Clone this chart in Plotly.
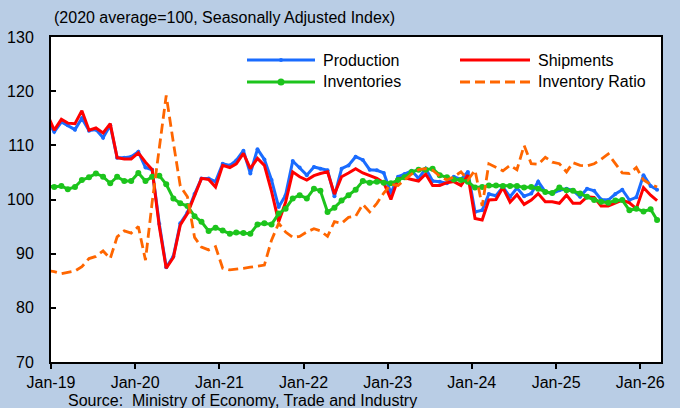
import pandas as pd
import plotly.graph_objects as go

# Monthly observations, Dec-2018 .. Mar-2026 (plotted mid-month)
months = pd.date_range("2018-12-01", "2026-03-01", freq="MS") + pd.Timedelta(days=14)

production = [114.5, 112.5, 114.3, 113.7, 112.9, 115.0, 112.7, 112.9, 111.4, 113.7,
              107.7, 107.7, 107.9, 108.8, 105.9, 105.5, 95.5, 87.5, 89.5, 95.6,
              97.6, 101.0, 103.9, 103.9, 103.3, 106.6, 106.3, 107.2, 109.0, 104.8,
              109.3, 107.4, 103.6, 98.6, 100.8, 107.1, 105.9, 104.5, 106.0, 105.7,
              105.4, 100.6, 105.7, 106.3, 107.9, 107.3, 105.5, 105.4, 104.9, 101.2,
              104.2, 104.7, 105.3, 103.9, 105.7, 103.4, 103.3, 103.0, 104.2, 103.7,
              105.1, 97.7, 98.0, 101.0, 100.7, 102.3, 100.5, 102.1, 100.6, 101.1,
              103.3, 101.4, 101.1, 101.7, 102.0, 101.7, 100.5, 102.0, 101.6, 100.0,
              99.9, 101.0, 101.8, 99.9, 100.4, 104.5, 102.5, 101.8]

shipments = [115.8, 112.8, 114.8, 114.1, 114.0, 116.4, 112.8, 113.2, 112.3, 114.0,
             107.7, 107.5, 107.5, 108.6, 106.9, 105.5, 95.0, 87.3, 89.3, 95.3,
             97.4, 100.8, 103.9, 103.7, 102.3, 106.3, 105.9, 106.6, 108.5, 105.7,
             107.6, 106.3, 101.5, 95.9, 99.5, 105.1, 104.2, 103.6, 104.4, 104.8,
             105.1, 101.0, 104.2, 104.9, 105.7, 104.9, 104.4, 103.9, 103.1, 100.0,
             103.8, 104.0, 103.7, 103.4, 104.7, 102.6, 102.6, 103.1, 103.3, 102.6,
             104.5, 96.5, 96.2, 99.9, 100.0, 102.2, 99.5, 100.9, 99.1, 99.9,
             101.1, 99.6, 99.6, 99.3, 100.8, 99.3, 99.3, 100.5, 100.4, 98.8,
             98.8, 99.3, 99.9, 99.4, 98.3, 102.2, 100.8, 99.8]

inventories = [102.5, 102.3, 102.5, 101.9, 102.3, 103.6, 104.1, 104.8, 104.2, 103.0,
               104.2, 103.4, 103.4, 104.9, 103.4, 104.2, 104.4, 102.8, 100.2, 99.3,
               98.8, 96.9, 95.9, 94.2, 94.8, 94.3, 93.7, 93.9, 93.8, 93.7,
               95.4, 95.6, 95.4, 97.4, 98.3, 100.2, 100.8, 100.2, 102.0, 101.6,
               97.7, 98.5, 99.8, 100.8, 101.8, 103.4, 103.1, 103.3, 103.1, 103.0,
               103.6, 104.1, 105.1, 105.5, 105.5, 105.7, 104.5, 104.1, 103.7, 103.6,
               103.3, 102.2, 102.3, 102.6, 102.6, 102.5, 102.5, 102.5, 102.2, 102.3,
               102.0, 101.4, 101.2, 102.2, 101.7, 101.6, 101.1, 100.5, 99.9, 99.6,
               99.4, 99.8, 99.9, 98.0, 98.3, 97.8, 98.2, 96.2]

inventory_ratio = [86.9, 86.7, 86.3, 86.5, 86.8, 87.6, 89.1, 89.5, 90.5, 89.1,
                   93.1, 94.2, 93.8, 95.0, 88.8, 99.5, 109.0, 119.2, 110.5, 102.5,
                   100.5, 93.0, 91.2, 90.7, 91.3, 87.3, 87.0, 87.1, 87.3, 87.5,
                   87.7, 87.9, 92.5, 95.6, 94.0, 93.0, 93.2, 94.0, 94.6, 94.2,
                   93.2, 95.9, 95.6, 96.7, 96.9, 99.1, 97.7, 99.3, 101.2, 102.8,
                   102.6, 103.6, 104.7, 105.5, 105.7, 105.4, 104.3, 103.6, 104.2, 105.1,
                   103.6, 105.4, 98.8, 106.6, 105.9, 105.3, 106.3, 105.5, 110.0, 106.6,
                   106.5, 107.8, 106.9, 106.6, 105.1, 106.8, 106.3, 106.2, 106.6, 107.4,
                   108.4, 106.6, 104.9, 104.8, 105.9, 103.6, 102.8, 102.3]

tick_dates = [f"{y}-01-01" for y in range(2019, 2027)]
tick_labels = ["Jan-19", "Jan-20", "Jan-21", "Jan-22", "Jan-23", "Jan-24", "Jan-25", "Jan-26"]

series_names = ["Production", "Shipments", "Inventories", "Inventory Ratio"]

BLUE = "#1a6cff"
RED = "#ff0000"
GREEN = "#1cc41c"
ORANGE = "#ff6600"
DASH = "10px,5px"
FONT = "Liberation Sans, Arial, sans-serif"

fig = go.Figure()
fig.add_trace(go.Scatter(x=months, y=production, name=series_names[0], mode="lines+markers",
                         line=dict(color=BLUE, width=3), marker=dict(color=BLUE, size=4)))
fig.add_trace(go.Scatter(x=months, y=shipments, name=series_names[1], mode="lines",
                         line=dict(color=RED, width=3)))
fig.add_trace(go.Scatter(x=months, y=inventories, name=series_names[2], mode="lines+markers",
                         line=dict(color=GREEN, width=3), marker=dict(color=GREEN, size=6)))
fig.add_trace(go.Scatter(x=months, y=inventory_ratio, name=series_names[3], mode="lines",
                         line=dict(color=ORANGE, width=2.8, dash=DASH)))

# plot area in pixels: x 51..661, y 37..362
L, R, T, B = 51, 661, 37, 362
def px(xp):
    return (xp - L) / (R - L)
def py(yp):
    return (B - yp) / (B - T)

# manual legend (two columns, two rows)
legend_items = [
    (series_names[0], BLUE, "solid", 247, 315, 60, 4),
    (series_names[1], RED, "solid", 460, 530, 60, 0),
    (series_names[2], GREEN, "solid", 247, 315, 82, 7),
    (series_names[3], ORANGE, DASH, 460, 530, 82, 0),
]
shapes = []
annotations = []
for name, col, dash, x0, x1, yy, msize in legend_items:
    shapes.append(dict(type="line", xref="paper", yref="paper", x0=px(x0), x1=px(x1),
                       y0=py(yy), y1=py(yy), line=dict(color=col, width=3 if dash == "solid" else 2.8,
                                                       dash=dash)))
    if msize:
        xm = (x0 + x1) / 2
        shapes.append(dict(type="circle", xref="paper", yref="paper",
                           x0=px(xm - msize / 2), x1=px(xm + msize / 2),
                           y0=py(yy + msize / 2), y1=py(yy - msize / 2),
                           fillcolor=col, line=dict(color=col, width=0)))
    annotations.append(dict(text=name, xref="paper", yref="paper", x=px(x1 + 6), y=py(yy),
                            xanchor="left", yanchor="middle", showarrow=False,
                            font=dict(size=16, color="black", family=FONT)))

annotations.append(dict(text="(2020 average=100, Seasonally Adjusted Index)", xref="paper", yref="paper",
                        x=px(52), y=py(18), xanchor="left", yanchor="middle", showarrow=False,
                        font=dict(size=16, color="black", family=FONT)))
annotations.append(dict(text="Source:  Ministry of Economy, Trade and Industry", xref="paper", yref="paper",
                        x=px(66), y=py(400), xanchor="left", yanchor="middle", showarrow=False,
                        font=dict(size=16, color="black", family=FONT)))

fig.update_layout(
    width=680, height=408,
    margin=dict(l=L, r=680 - R, t=T, b=408 - B, pad=0),
    paper_bgcolor="#b9cde5",
    plot_bgcolor="white",
    showlegend=False,
    font=dict(family=FONT, size=16, color="black"),
    shapes=shapes,
    annotations=annotations,
)
fig.update_xaxes(type="date", range=["2019-01-01", "2026-04-01"], tickvals=tick_dates, ticktext=tick_labels,
                 showgrid=False, zeroline=False, showline=True, mirror=True, linecolor="black", linewidth=2,
                 ticks="outside", ticklen=5, tickcolor="black", tickwidth=1.5, ticklabelstandoff=0,
                 automargin=False)
fig.update_yaxes(range=[70, 130], dtick=10, tick0=70, showgrid=False, zeroline=False, showline=True,
                 mirror=True, linecolor="black", linewidth=2, ticks="inside", ticklen=5,
                 tickcolor="black", tickwidth=1.5, ticklabelstandoff=12, automargin=False)

fig.write_html("out.html", config={"displayModeBar": False})

# remove the browser's default page margin so the figure sits at the window origin
with open("out.html", "r", encoding="utf-8") as f:
    html = f.read()
html = html.replace("<head>", "<head><style>html,body{margin:0;padding:0;}</style>", 1)
with open("out.html", "w", encoding="utf-8") as f:
    f.write(html)
